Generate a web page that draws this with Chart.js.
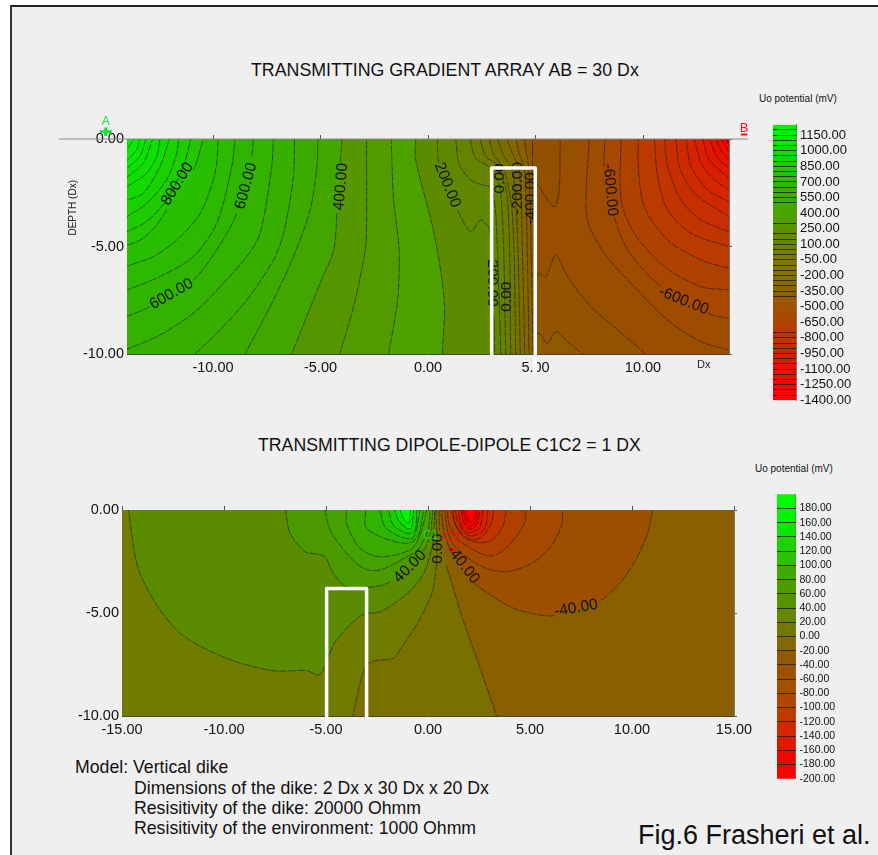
<!DOCTYPE html>
<html>
<head>
<meta charset="utf-8">
<script src="https://cdn.jsdelivr.net/npm/chart.js@4"></script>
<style>
  html, body { margin: 0; padding: 0; background: #fff; }
  body { width: 878px; height: 855px; position: relative; overflow: hidden; font-family: "Liberation Sans", sans-serif; color: #111; }
  #frame { position: absolute; left: 10px; top: 5px; width: 868px; height: 850px; background: #efefef; border-left: 2px solid #333; border-top: 2px solid #222; box-sizing: border-box; }
  canvas { position: absolute; }
  .t { position: absolute; white-space: nowrap; line-height: 1; }
</style>
</head>
<body>
<div id="frame"></div>
<div class="t" style="left:251px;top:62px;font-size:17.8px">TRANSMITTING GRADIENT ARRAY AB = 30 Dx</div>
<div class="t" style="left:258px;top:437px;font-size:17.7px">TRANSMITTING DIPOLE-DIPOLE C1C2 = 1 DX</div>
<div class="t" style="left:759px;top:94px;font-size:10px">Uo potential (mV)</div>
<div class="t" style="left:755px;top:464px;font-size:10px">Uo potential (mV)</div>
<div class="t" style="left:75px;top:759px;font-size:17.7px">Model: Vertical dike</div>
<div class="t" style="left:134px;top:780px;font-size:17.7px">Dimensions of the dike: 2 Dx x 30 Dx x 20 Dx</div>
<div class="t" style="left:134px;top:800px;font-size:17.7px">Resisitivity of the dike: 20000 Ohmm</div>
<div class="t" style="left:134px;top:820px;font-size:17.7px">Resisitivity of the environment: 1000 Ohmm</div>
<div class="t" style="left:638px;top:822px;font-size:27px">Fig.6 Frasheri et al.</div>

<canvas id="gradientPlot" width="700" height="285" style="left:55px;top:100px"></canvas>
<canvas id="gradientBar" width="105" height="299" style="left:773px;top:113px"></canvas>
<canvas id="dipolePlot" width="720" height="250" style="left:50px;top:495px"></canvas>
<canvas id="dipoleBar" width="100" height="305" style="left:777px;top:484px"></canvas>

<script>
// ---- top plot: gradient array, contour curves [x, depth]
// null = gap in the line where a contour label sits
const gradientLeftCurves = [
  [[-0.57,0],[-0.57,-0.98],[0.28,-4.39],[0.75,-7.49],[0.67,-10]],
  [[-1.71,0],[-1.6,-2.84],[-1.34,-5.16],[-1.41,-7.49],[-1.83,-10]],
  [[-2.86,0],[-2.86,-4.08],[-2.92,-5.16],[-3.46,-7.8],[-4.11,-10]],
  [[-4,0],[-4.08,-1.13],null,[-4.24,-3.46],[-4.39,-5.16],[-5.02,-6.71],[-6.34,-10]],
  [[-5.12,0],[-5.17,-1.29],[-5.48,-3.3],[-6.26,-5.47],[-7.19,-7.49],[-8.51,-10]],
  [[-6.21,0],[-6.26,-1.75],[-6.72,-4.39],[-7.19,-5.63],[-8.43,-7.49],[-9.83,-9.04],[-10.84,-10]],
  [[-7.19,0],[-7.27,-1.29],[-7.81,-4.39],[-8.43,-5.47],[-9.67,-6.87],[-10.92,-8.11],[-12.47,-9.12],[-14,-9.78]],
  [[-8.12,0],[-8.2,-0.82],null,[-8.9,-3.46],[-9.83,-5.16],[-10.92,-6.56],null,[-12.93,-7.8],[-14,-8.26]],
  [[-8.98,0],[-9.13,-1.29],[-9.83,-3.92],[-10.92,-5.47],[-12.47,-6.4],[-14,-7.02]],
  [[-9.75,0],[-9.91,-1.6],[-10.6,-3.46],[-11.69,-4.7],[-12.78,-5.47],[-14,-5.91]],
  [[-10.45,0],[-10.92,-1.44],null,[-12.16,-3.3],[-12.62,-4],[-13.25,-4.62],[-14,-4.96]],
  [[-11.04,0],[-11.38,-1.29],[-12.16,-2.84],[-13.09,-3.84],[-14,-4.31]],
  [[-11.6,0],[-11.69,-0.67],[-12.16,-1.9],[-13.09,-3],[-14,-3.61]],
  [[-12.03,0],[-12.47,-1.29],[-13.25,-2.53],[-14,-2.84]],
  [[-12.47,0],[-12.62,-0.82],[-13.09,-1.6],[-14,-2.22]],
  [[-12.81,0],[-13.25,-1.13],[-14,-1.78]],
  [[-13.12,0],[-13.4,-0.8],[-14,-1.36]],
  [[-13.4,0],[-13.56,-0.5],[-14,-1]],
  [[-13.68,0],[-14,-0.5]]
];
const gradientLeftColors = ["#4ea200","#529a00","#569600","#43a600","#3caa00","#37ae00","#33b200","#2fb500","#2bba00","#28bf00","#23c600","#1ecc00","#18d200","#12d900","#0ede00","#0ae300","#07e700","#04ec00","#02f000"];

const gradientDikeCurves = [
  [[6.15,0],[6.1,-2.37],[5.9,-3.15],[5.56,-2.84],[5.17,-2.22],[4.98,-2],[5,-10]],
  [[4.86,0],[4.86,-0.67],[4.86,-1.52],[4.94,-5.94],[5,-10]],
  [[4.47,0],[4.55,-0.51],[4.7,-1.52],[4.81,-5.94],[4.88,-10]],
  [[4.08,0],[4.24,-0.67],[4.5,-1.44],[4.63,-5.94],[4.7,-10]],
  [[3.66,0],[3.93,-0.67],[4.24,-1.44],[4.39,-5.16],[4.5,-10]],
  [[3.23,0],[3.54,-0.82],[3.93,-1.44],[4.16,-4.39],[4.29,-10]],
  [[2.84,0],[3.07,-0.74],[3.54,-1.44],[3.93,-3.6],[4.08,-10]],
  [[2.42,0],[2.69,-0.82],[3.23,-1.21],[3.7,-2.84],[3.85,-10]],
  [[1.96,0],[2.22,-0.9],[2.92,-1.36],[3.39,-2.53],[3.62,-10]],
  [[1.29,0],[1.44,-1.13],[1.99,-1.91],[2.53,-2.14],[2.92,-2.25],[3.15,-3.46],[3.39,-10]],
  [[0.43,0],[0.51,-1.13],null,[1.37,-3.3],[1.99,-4.31],[2.45,-3.77],[2.84,-4.16],[2.92,-5],null,[3.07,-8.26],[3.1,-10]]
];
const gradientDikeColors = ["#925000","#8e5800","#886000","#826600","#7c6c00","#767200","#707800","#6a7d00","#648300","#5f8700","#5c8a00"];

const gradientWiggleCurves = [
  [[5,-10],[5,-6.8],[5.17,-6.25],[5.48,-6.4],[5.95,-5.4],[6.49,-6.4],[7.58,-7.8],[8.82,-8.88],[10.14,-10]],
  [[5,-10],[5,-9.2],[5.17,-9.04],[5.56,-9.5],[5.95,-8.96],[6.49,-9.43],[7.19,-10]]
];
const gradientWiggleColors = ["#955300","#905800"];

const gradientRightCurves = [
  [[7.5,0],[7.39,-3.61],[8.2,-5.32],[9.6,-6.87],[11.15,-8.42],[12.7,-9.43],[14,-9.81]],
  [[8.23,0],[8.2,-1.29],null,[8.66,-3.61],[9.29,-5.16],[10.84,-6.87],null,[13.01,-8.11],[14,-8.34]],
  [[8.98,0],[8.98,-2.84],[9.6,-4.39],[10.99,-5.94],[12.7,-6.87],[14,-7.02]],
  [[9.78,0],[9.78,-1.29],[10.06,-3.15],[11.15,-4.7],[12.7,-5.63],[14,-6.02]],
  [[10.53,0],[10.68,-1.75],[11.15,-3.3],[12.24,-4.39],[14,-5.01]],
  [[10.99,0],[11.15,-1.29],[11.77,-2.84],[12.7,-3.77],[14,-4.31]],
  [[11.54,0],[11.69,-1.29],[12.39,-2.53],[14,-3.61]],
  [[12,0],[12.24,-1.29],[13.01,-2.37],[14,-2.91]],
  [[12.39,0],[12.7,-1.13],[13.32,-1.91],[14,-2.37]],
  [[12.78,0],[13.09,-0.98],[14,-1.83]],
  [[13.09,0],[13.48,-0.9],[14,-1.36]],
  [[13.4,0],[13.71,-0.67],[14,-0.98]],
  [[13.63,0],[14,-0.59]],
  [[13.87,0],[14,-0.28]]
];
const gradientRightColors = ["#a04c00","#a84700","#af4200","#bb3a00","#c23400","#c82f00","#ce2a00","#d42400","#da1e00","#e01800","#e61200","#ec0c00","#f20600","#f80000"];

const gradientXTicks = [-10, -5, 0, 5, 10];
const gradientYTicks = [-10, -5, 0];
const gradientDike = [[2.96,-10.1],[2.96,-1.35],[4.99,-1.35],[4.99,-10.85]];
const gradientSurface = [[-17.16,0],[14.9,0]];
const gradientMarkerA = [[-15.27,0.34],[-14.71,0.34],[-14.99,0.34],[-14.99,0.54],[-14.99,0.14]];
const gradientMarkerB = [[14.55,0.21],[14.85,0.21]];
const gradientLabels = [
  ["800.00",-11.66,-2.09,-58], ["600.00",-8.46,-2.19,-75], ["400.00",-4.05,-2.22,-85], ["600.00",-11.93,-7.21,-30],
  ["200.00",0.9,-2.14,68], ["-600.00",8.48,-2.37,85], ["-600.00",11.89,-7.52,22],
  ["0.00",3.35,-1.83,-90], ["-200.00",4.19,-2.29,-90], ["-400.00",4.78,-2.76,-90],
  ["0.00",3.66,-7.33,-90], ["200.00",3,-6.71,90]
];

// ---- bottom plot: dipole-dipole
const dipoleLeftCurves = [
  [[0.54,0],[0.57,-1],null,[0.9,-2.7],[1.06,-3.21],[1.71,-5.32],[2.53,-7.6],[3.36,-10]],
  [[0.38,0],[0.44,-1.92],[0.24,-3.86],[-0.41,-5.32],[-1.39,-6.79],[-1.7,-7.2],[-2.76,-7.36],[-3.17,-7.85],[-3.69,-10]]
];
const dipoleLeftColors = ["#7a7000","#6f7c00"];
const dipoleGreenCurves = [
  [[0.33,0],[0.24,-1.59],[-0.16,-2.97],[-0.73,-3.78],[-1.39,-4.35],[-2.35,-4.94],[-3.25,-5.1],[-4.48,-6.31],[-4.89,-7.12],[-5.13,-7.77],[-5.38,-8.01],[-5.95,-7.8],[-7.58,-7.8],[-9.87,-7.2],[-12.32,-5.83],[-14.12,-3.07],[-14.69,0]],
  [[-6.98,0],[-6.76,-1.13],[-6.03,-2.02],[-5.38,-2.14],[-5.05,-2.27],[-4.64,-3.07],[-3.99,-3.72],[-2.6,-3.72],[-1.86,-3.48],null,[-0.24,-2],[0.11,-1.1],[0.24,0]],
  [[-5.05,0],[-4.8,-0.97],[-3.99,-2.1],[-3.17,-2.83],[-2.35,-2.91],[-1.04,-2.27],[-0.49,-1.92],[0,-0.94],[0.11,0]],
  [[-3.99,0],[-3.99,-0.65],[-3.33,-1.86],[-2.35,-2.27],[-0.88,-1.94],[-0.41,-1.27],[-0.05,0]],
  [[-3.05,0],[-3.05,-0.81],[-2.35,-1.29],[-1.04,-1.62],[-0.49,-1.27],[-0.21,0]],
  [[-2.35,0],[-2.11,-0.81],[-1.37,-1.29],[-0.73,-1.35],[-0.38,0]],
  [[-1.94,0],[-1.7,-0.73],[-1.04,-1.13],[-0.65,-1.02],[-0.54,0]],
  [[-1.62,0],[-1.45,-0.49],[-1.04,-0.89],[-0.82,-0.86],[-0.7,0]],
  [[-1.37,0],[-1.21,-0.4],[-0.96,-0.65],[-0.9,-0.45],[-0.86,0]]
];
const dipoleGreenColors = ["#5b8b00","#4b9b00","#44a300","#3caa00","#2fb400","#24c000","#18ce00","#08e400","#00f800"];
const dipoleRedCurves = [
  [[11.01,0],[10.77,-1.1],[10.28,-2.24],[9.54,-3.38],[8.4,-4.43],null,[6.2,-5.13],[5.14,-5.03],[4.16,-4.76],[3.18,-4.19],[2.28,-3.54],null,[1.06,-1.83],[0.78,-1.1],[0.65,0]],
  [[6.61,0],[6.53,-0.78],[6.04,-1.75],[5.14,-2.56],[4,-2.97],[3.02,-2.89],[2.04,-2.4],[1.31,-1.75],[0.98,-1.1],[0.82,0]],
  [[4.81,0],[4.73,-0.62],[4.16,-1.51],[3.51,-2.08],[3.02,-2.24],[2.2,-1.92],[1.47,-1.43],[1.06,-0.78],[0.93,0]],
  [[3.83,0],[3.67,-0.78],[3.18,-1.43],[2.53,-1.59],[1.88,-1.35],[1.39,-0.78],[1.14,0]],
  [[3.23,0],[3.1,-0.62],[2.69,-1.27],[2.12,-1.46],[1.63,-1.19],[1.31,-0.62],[1.22,0]],
  [[2.94,0],[2.77,-0.94],[2.12,-1.27],[1.71,-1.02],[1.42,-0.45],[1.34,0]],
  [[2.69,0],[2.53,-0.86],[2.07,-1.1],[1.68,-0.86],[1.47,0]],
  [[2.53,0],[2.4,-0.7],[2.07,-0.94],[1.79,-0.7],[1.6,0]],
  [[2.4,0],[2.28,-0.62],[2.07,-0.78],[1.88,-0.58],[1.71,0]],
  [[2.33,0],[2.23,-0.45],[2.07,-0.58],[1.93,-0.37],[1.81,0]]
];
const dipoleRedColors = ["#9d5000","#a54a00","#b04000","#c03500","#cc2a00","#d82000","#e41600","#f80000","#ff0000","#ff0000"];

const dipoleXTicks = [-15, -10, -5, 0, 5, 10, 15];
const dipoleYTicks = [-10, -5, 0];
const dipoleDike = [[-4.97,-10.5],[-4.97,-3.81],[-3.01,-3.81],[-3.01,-10.1]];
const dipoleMarkerC2 = [[1.02,-1.92],[1.36,-1.92]];
const dipoleLabels = [
  ["40.00",-0.88,-2.75,-45], ["0.00",0.49,-1.88,-90], ["-40.00",1.71,-2.65,52], ["-40.00",7.26,-4.76,-10]
];

// ---- colour bars
const gradientLevels = [1250,1200,1150,1100,1050,1000,950,900,850,800,750,700,650,600,550,500,450,400,350,300,250,200,150,100,50,0,-50,-100,-150,-200,-250,-300,-350,-400,-450,-500,-550,-600,-650,-700,-750,-800,-850,-900,-950,-1000,-1050,-1100,-1150,-1200,-1250,-1300,-1350,-1400];
const gradientBarTicks = [1150,1000,850,700,550,400,250,100,-50,-200,-350,-500,-650,-800,-950,-1100,-1250,-1400];
const gradientBarLines = [1200,1150,1100,1050,1000,950,900,850,800,750,700,650,600,550,500,300,200,150,100,50,0,-50,-100,-150,-200,-250,-300,-350,-400,-750,-800,-850,-900,-950,-1000,-1050,-1100,-1150,-1200,-1250,-1300,-1350];
const gradientBarStops = [[1250,"#00f000"],[1000,"#00e400"],[850,"#20cc00"],[700,"#28bc00"],[550,"#3aae00"],[400,"#4ca400"],[300,"#4ba000"],[250,"#5a9000"],[100,"#6a8500"],[-50,"#7a7a00"],[-200,"#857000"],[-350,"#8f6200"],[-500,"#a05000"],[-650,"#ae4400"],[-800,"#c43000"],[-950,"#d42200"],[-1100,"#e81200"],[-1250,"#f80500"],[-1400,"#ff0000"]];

const dipoleLevels = [200,180,160,140,120,100,80,60,40,20,0,-20,-40,-60,-80,-100,-120,-140,-160,-180,-200];
const dipoleBarTicks = [180,160,140,120,100,80,60,40,20,0,-20,-40,-60,-80,-100,-120,-140,-160,-180,-200];
const dipoleBarStops = [[200,"#00ff00"],[160,"#00f000"],[140,"#18de00"],[120,"#20cc00"],[100,"#30b800"],[80,"#48a000"],[60,"#4f9800"],[40,"#5e8c00"],[20,"#6c8000"],[0,"#7a7000"],[-20,"#8a6000"],[-40,"#9a5200"],[-60,"#a04e00"],[-80,"#a85000"],[-100,"#b83e00"],[-120,"#c83000"],[-140,"#d82000"],[-160,"#e81000"],[-180,"#f80000"],[-200,"#ff0000"]];

const FONT = "Liberation Sans";
Chart.defaults.font.family = FONT;
Chart.defaults.animation = false;

function toPoints(curve) {
  return curve.map((p) => ({ x: p[0], y: p[1] }));
}

// runs a curve on past both ends (outside the plot, clipped away) so it leaves the edge straight
function extendCurve(curve) {
  const pts = curve.filter(Boolean);
  const n = pts.length;
  const past = (a, b) => [a[0] + (a[0] - b[0]) * 0.5, a[1] + (a[1] - b[1]) * 0.5];
  return [past(pts[0], pts[1])].concat(pts, [past(pts[n - 1], pts[n - 2])]);
}

// closes a contour outside the plot area so that it can be filled as a shape
function closeCurve(curve, side, xMin, xMax) {
  const pts = extendCurve(curve);
  const first = pts[0];
  const last = pts[pts.length - 1];
  if (side === "left") return pts.concat([[xMin - 4, last[1]], [xMin - 4, 4], [first[0], 4]]);
  if (side === "right") return pts.concat([[xMax + 4, last[1]], [xMax + 4, 4], [first[0], 4]]);
  if (side === "bottom") return pts.concat([[last[0], -14], [first[0], -14]]);
  return pts.concat([[last[0], 4], [first[0], 4]]);
}

function fillSets(curves, colors, side, xMin, xMax) {
  return curves.map((c, i) => ({
    data: toPoints(closeCurve(c, side, xMin, xMax)),
    fill: "shape",
    backgroundColor: colors[i],
    borderWidth: 0,
    tension: 0.3,
    pointRadius: 0,
  }));
}

function lineSets(curves) {
  return curves.map((c) => {
    // index of the point before each label gap, counted in the extended curve
    const gaps = new Set();
    let kept = 0;
    c.forEach((p) => {
      if (p) kept++;
      else gaps.add(kept);
    });
    return {
      data: toPoints(extendCurve(c)),
      borderColor: "rgba(15,20,0,0.72)",
      borderWidth: 0.75,
      borderDash: [8, 1.2],
      tension: 0.3,
      pointRadius: 0,
      fill: false,
      segment: { borderColor: (ctx) => (gaps.has(ctx.p0DataIndex) ? "transparent" : undefined) },
    };
  });
}

function overlay(points, color, width, extra) {
  return Object.assign({ data: toPoints(points), borderColor: color, borderWidth: width, pointRadius: 0, fill: false, clip: false }, extra);
}

// contour labels and small annotations, drawn just under the white dike outline
const labelPlugin = {
  id: "labelPlugin",
  beforeDatasetDraw(chart, args) {
    if (args.index !== 0) return;
    const ctx = chart.ctx;
    chart.options.plugins.labelPlugin.items.forEach((it) => {
      ctx.save();
      ctx.translate(chart.scales.x.getPixelForValue(it[1]), chart.scales.y.getPixelForValue(it[2]));
      ctx.rotate((it[3] * Math.PI) / 180);
      ctx.font = (it[5] || 14) + "px '" + FONT + "'";
      ctx.fillStyle = it[4] || "#111";
      ctx.textAlign = "center";
      ctx.textBaseline = "middle";
      ctx.fillText(it[0], 0, 0);
      ctx.restore();
    });
  },
};

function fixed(prop, size) {
  return (scale) => { scale[prop] = size; };
}

function plotChart(id, cfg) {
  return new Chart(document.getElementById(id), {
    type: "line",
    data: { datasets: cfg.datasets.reverse() },
    plugins: [labelPlugin],
    options: {
      responsive: false,
      layout: { padding: 0 },
      plugins: { legend: { display: false }, tooltip: { enabled: false }, labelPlugin: { items: cfg.labels } },
      scales: {
        x: {
          type: "linear", min: cfg.xMin, max: cfg.xMax, position: "bottom",
          afterBuildTicks: (s) => { s.ticks = cfg.xTicks.map((value) => ({ value })); },
          afterFit: fixed("height", cfg.bottom),
          grid: { display: false, drawTicks: false },
          border: { display: true, color: "#444", width: 1 },
          ticks: { color: "#111", font: { size: 14.5 }, padding: 5, maxRotation: 0, autoSkip: false, callback: (v) => v.toFixed(2) },
        },
        y: {
          type: "linear", min: -10, max: 0, position: "left",
          afterBuildTicks: (s) => { s.ticks = cfg.yTicks.map((value) => ({ value })); },
          afterFit: fixed("width", cfg.left),
          grid: { display: false, drawTicks: false },
          border: { display: true, color: "#444", width: 1 },
          ticks: { color: "#111", font: { size: 14.5 }, padding: 3, autoSkip: false, callback: (v) => v.toFixed(2) },
        },
        xTop: {
          type: "linear", min: cfg.xMin, max: cfg.xMax, position: "top",
          afterBuildTicks: (s) => { s.ticks = cfg.xTicks.map((value) => ({ value })); },
          afterFit: fixed("height", cfg.top),
          grid: { drawOnChartArea: false, tickLength: 4, color: "#555" },
          border: { display: true, color: cfg.topColor, width: 1 },
          ticks: { display: false },
        },
        yRight: {
          type: "linear", min: -10, max: 0, position: "right",
          afterBuildTicks: (s) => { s.ticks = cfg.yTicks.map((value) => ({ value })); },
          afterFit: fixed("width", cfg.right),
          grid: { drawOnChartArea: false, tickLength: 3, color: "#555" },
          border: { display: true, color: "#777", width: 1 },
          ticks: { display: false },
        },
      },
    },
  });
}

function colorAt(stops, v) {
  for (let i = 0; i < stops.length - 1; i++) {
    if (v <= stops[i][0] && v >= stops[i + 1][0]) {
      const t = (stops[i][0] - v) / (stops[i][0] - stops[i + 1][0]);
      const a = parseInt(stops[i][1].slice(1), 16);
      const b = parseInt(stops[i + 1][1].slice(1), 16);
      const mix = (s) => Math.round(((a >> s) & 255) * (1 - t) + ((b >> s) & 255) * t);
      return "rgb(" + mix(16) + "," + mix(8) + "," + mix(0) + ")";
    }
  }
  return stops[stops.length - 1][1];
}

function barChart(id, levels, stops, tickList, lineList, fontSize, axisWidth, padTop, padBottom) {
  const cells = [];
  for (let i = 0; i < levels.length - 1; i++) {
    cells.push({
      data: [[levels[i + 1], levels[i]]],
      backgroundColor: colorAt(stops, (levels[i] + levels[i + 1]) / 2),
      borderWidth: 0,
      grouped: false,
      barPercentage: 1,
      categoryPercentage: 1,
    });
  }
  const lo = levels[levels.length - 1];
  const hi = levels[0];
  return new Chart(document.getElementById(id), {
    type: "bar",
    data: { labels: [""], datasets: cells },
    options: {
      responsive: false,
      layout: { padding: { top: padTop, bottom: padBottom } },
      plugins: { legend: { display: false }, tooltip: { enabled: false } },
      scales: {
        x: { display: false, grid: { display: false } },
        y: {
          min: lo, max: hi, position: "right",
          afterBuildTicks: (s) => { s.ticks = tickList.map((value) => ({ value })); },
          afterFit: fixed("width", axisWidth),
          grid: { display: false, drawTicks: false },
          border: { display: true, color: "#777", width: 1 },
          ticks: { color: "#111", font: { size: fontSize }, padding: 4, autoSkip: false, callback: (v) => v.toFixed(2) },
        },
        yLines: {
          min: lo, max: hi, position: "right", display: true,
          afterBuildTicks: (s) => { s.ticks = lineList.map((value) => ({ value })); },
          afterFit: fixed("width", 0),
          grid: { color: "#2a2200", z: 1, drawTicks: false, lineWidth: 0.9 },
          border: { display: false },
          ticks: { display: false },
        },
      },
    },
  });
}

// ---- top plot
const gXMin = -14, gXMax = 14;
plotChart("gradientPlot", {
  xMin: gXMin, xMax: gXMax, xTicks: gradientXTicks, yTicks: gradientYTicks,
  left: 72, right: 26, top: 39, bottom: 31, topColor: "#555",
  labels: gradientLabels.map((l) => [l[0], l[1], l[2], l[3], "#111", 15.5]).concat([
    ["DEPTH (Dx)", -16.5, -3.2, -90, "#222", 10],
    ["Dx", 12.83, -10.5, 0, "#222", 11],
    ["A", -14.99, 0.8, 0, "#19e03c", 12],
    ["B", 14.7, 0.5, 0, "#f01010", 13],
  ]),
  datasets: [].concat(
    [overlay([[gXMin,0],[gXMax,0],[gXMax,-10],[gXMin,-10],[gXMin,0]], "transparent", 0, { fill: "shape", backgroundColor: "#9a4e00", clip: undefined })],
    fillSets(gradientWiggleCurves, gradientWiggleColors, "bottom", gXMin, gXMax),
    fillSets(gradientDikeCurves, gradientDikeColors, "left", gXMin, gXMax),
    fillSets(gradientLeftCurves, gradientLeftColors, "left", gXMin, gXMax),
    fillSets(gradientRightCurves, gradientRightColors, "right", gXMin, gXMax),
    lineSets(gradientWiggleCurves),
    lineSets(gradientDikeCurves),
    lineSets(gradientLeftCurves),
    lineSets(gradientRightCurves),
    [overlay(gradientSurface, "#8a8a8a", 1)],
    [overlay(gradientMarkerA, "#19e03c", 3)],
    [overlay(gradientMarkerB, "#f01010", 2)],
    [overlay(gradientDike, "#ffffff", 3.5, { borderJoinStyle: "round", borderCapStyle: "butt" })]
  ),
});

// ---- bottom plot
const dXMin = -15, dXMax = 15;
plotChart("dipolePlot", {
  xMin: dXMin, xMax: dXMax, xTicks: dipoleXTicks, yTicks: dipoleYTicks,
  left: 72, right: 36, top: 15, bottom: 29, topColor: "#b0a890",
  labels: dipoleLabels.map((l) => [l[0], l[1], l[2], l[3], "#111", 15.5]).concat([
    ["C1", 0.12, -1.23, 0, "#18e030", 12],
    ["C2", 1.19, -1.35, 0, "#f01010", 12],
  ]),
  datasets: [].concat(
    [overlay([[dXMin,0],[dXMax,0],[dXMax,-10],[dXMin,-10],[dXMin,0]], "transparent", 0, { fill: "shape", backgroundColor: "#8a5f00", clip: undefined })],
    fillSets(dipoleLeftCurves, dipoleLeftColors, "left", dXMin, dXMax),
    fillSets(dipoleGreenCurves, dipoleGreenColors, "top", dXMin, dXMax),
    fillSets(dipoleRedCurves, dipoleRedColors, "top", dXMin, dXMax),
    lineSets(dipoleLeftCurves),
    lineSets(dipoleGreenCurves),
    lineSets(dipoleRedCurves),
    [overlay(dipoleMarkerC2, "#f01010", 3)],
    [overlay(dipoleDike, "#ffffff", 3.5, { borderJoinStyle: "round", borderCapStyle: "butt" })]
  ),
});

// ---- colour bars
barChart("gradientBar", gradientLevels, gradientBarStops, gradientBarTicks, gradientBarLines, 13, 82, 10, 9);
barChart("dipoleBar", dipoleLevels, dipoleBarStops, dipoleBarTicks, dipoleLevels.slice(1, -1), 10.5, 81.5, 10, 10);
</script>
</body>
</html>
